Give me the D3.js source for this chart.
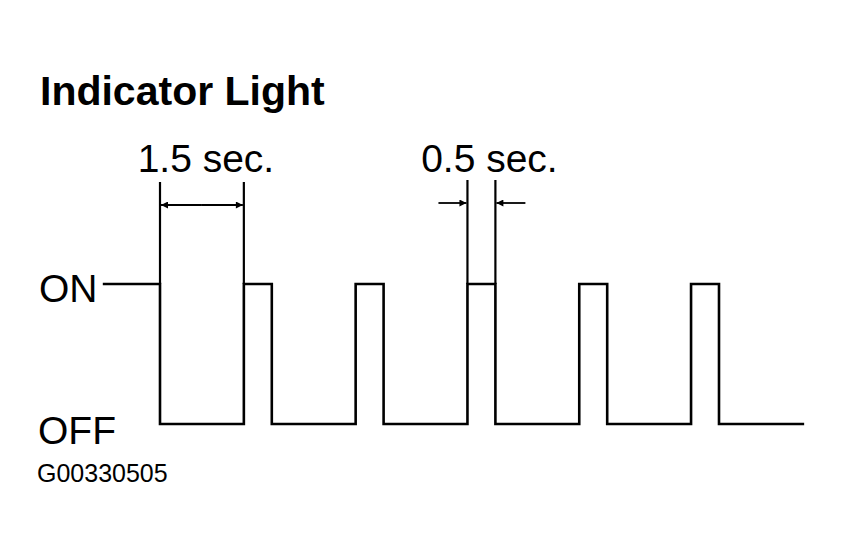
<!DOCTYPE html>
<html>
<head>
<meta charset="utf-8">
<script src="https://cdn.jsdelivr.net/npm/d3@7"></script>
<style>
  html, body { margin: 0; padding: 0; background: #fff; }
  svg { display: block; }
  text { font-family: "Liberation Sans", Arial, Helvetica, sans-serif; fill: #000; }
</style>
</head>
<body>
<svg id="chart" width="842" height="558"></svg>
<script>
// ---- data ----
const title = "Indicator Light";
const stateLabels = ["OFF", "ON"];
// transition times (seconds) and state after each time (1 = ON, 0 = OFF)
const times  = [-1, 0, 1.5, 2, 3.5, 4, 5.5, 6, 7.5, 8, 9.5, 10, 11.5];
const states = [ 1, 0, 1,   0, 1,   0, 1,   0, 1,   0, 1,   0,  0];
// dimension annotations
const dimFrom   = [0, 5.5];
const dimTo     = [1.5, 6];
const dimLabels = ["1.5 sec.", "0.5 sec."];
const dimStyles = ["inside", "outside"];
const figureCode = "G00330505";

// ---- drawing ----
const svg = d3.select("#chart");
const x = d3.scaleLinear().domain([0, 10]).range([160, 719]);
const y = d3.scaleLinear().domain([0, 1]).range([424, 284]);

const pts = times.map((t, i) => ({ t, s: states[i] }));
const line = d3.line().x(d => x(d.t)).y(d => y(d.s)).curve(d3.curveStepAfter);

svg.append("text").attr("x", 40).attr("y", 105)
  .attr("font-size", 41).attr("font-weight", "bold").text(title);

// state labels
svg.append("text").attr("x", 39).attr("y", 302).attr("font-size", 39).text(stateLabels[1]);
svg.append("text").attr("x", 38).attr("y", 444).attr("font-size", 39).text(stateLabels[0]);
svg.append("text").attr("x", 37).attr("y", 482).attr("font-size", 25).text(figureCode);

// waveform
svg.append("path").datum(pts).attr("d", line)
  .attr("fill", "none").attr("stroke", "#000").attr("stroke-width", 2.6)
  .attr("stroke-linejoin", "miter").attr("stroke-linecap", "square");

// arrow markers
const defs = svg.append("defs");
defs.append("marker").attr("id", "arr").attr("viewBox", "0 0 10 10")
  .attr("refX", 10).attr("refY", 5).attr("markerWidth", 10).attr("markerHeight", 7)
  .attr("markerUnits", "userSpaceOnUse").attr("orient", "auto")
  .append("path").attr("d", "M0,0 L10,5 L0,10 Z").attr("fill", "#000");

const extTop = [182, 180];
const arrowY = [205, 203];
dimFrom.forEach((f, i) => {
  const x0 = x(f), x1 = x(dimTo[i]);
  const g = svg.append("g").attr("stroke", "#000").attr("stroke-width", 2.2);
  [x0, x1].forEach(xx => {
    g.append("line").attr("x1", xx).attr("x2", xx)
      .attr("y1", y(1)).attr("y2", extTop[i]);
  });
  const ay = arrowY[i];
  if (dimStyles[i] === "inside") {
    const mid = (x0 + x1) / 2;
    g.append("line").attr("x1", mid).attr("x2", x0 + 1).attr("y1", ay).attr("y2", ay)
      .attr("stroke-width", 1.8).attr("marker-end", "url(#arr)");
    g.append("line").attr("x1", mid).attr("x2", x1 - 1).attr("y1", ay).attr("y2", ay)
      .attr("stroke-width", 1.8).attr("marker-end", "url(#arr)");
  } else {
    g.append("line").attr("x1", x0 - 29).attr("x2", x0 - 1).attr("y1", ay).attr("y2", ay)
      .attr("stroke-width", 1.8).attr("marker-end", "url(#arr)");
    g.append("line").attr("x1", x1 + 30).attr("x2", x1 + 1).attr("y1", ay).attr("y2", ay)
      .attr("stroke-width", 1.8).attr("marker-end", "url(#arr)");
  }
  const cx = (x0 + x1) / 2 + (i === 0 ? 4 : 8);
  svg.append("text").attr("x", cx).attr("y", 172).attr("text-anchor", "middle")
    .attr("font-size", 39).text(dimLabels[i]);
});
</script>
</body>
</html>
